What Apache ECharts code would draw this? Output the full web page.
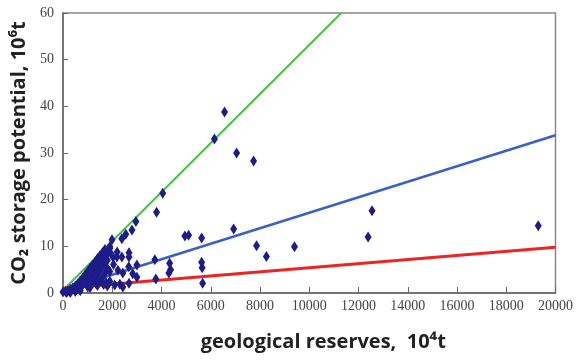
<!DOCTYPE html>
<html>
<head>
<meta charset="utf-8">
<script src="https://cdn.jsdelivr.net/npm/echarts@6/dist/echarts.min.js"></script>
<style>
html,body{margin:0;padding:0;background:#fff;}
#chart{width:576px;height:363px;}
</style>
</head>
<body>
<div id="chart"></div>
<script>
// Scatter points: [geological reserves (10^4 t), CO2 storage potential (10^6 t)]
const scatterPoints = [
  [19300,14.4],[12550,17.6],[12390,12.0],[9400,9.9],
  [6560,38.8],[6150,33.0],[7050,30.0],[7740,28.3],
  [4950,12.2],[5100,12.4],[5630,11.8],[6930,13.7],[7860,10.1],[8260,7.8],
  [5630,6.6],[5650,5.4],[5670,2.1],
  [4050,21.4],[3800,17.3],[2960,15.3],[2800,13.5],[2550,12.6],[2390,11.6],
  [1990,11.4],[1900,9.6],[2680,8.6],[2030,7.7],[2190,7.7],[2390,7.7],[2680,7.7],
  [2200,8.8],[3730,7.1],[4330,6.4],[4370,5.0],[4300,4.3],[3000,6.0],
  [2670,5.6],[2230,4.9],[2430,4.3],[2830,4.1],[3000,3.4],[3770,3.0],
  [2680,2.1],[2310,1.9],[2100,1.7],[1010,1.3],[2430,1.3],[1800,1.5],
  [1900,9.9],[1850,9.0],[1700,9.3],[1600,8.6],[1750,8.0],[1500,8.0],
  [1400,7.4],[1600,7.2],[1800,7.0],[1300,6.6],[1500,6.4],[1700,6.3],
  [1200,6.0],[1400,5.8],[1600,5.6],[1100,5.3],[1300,5.0],[1500,4.8],
  [1800,5.3],[1000,4.6],[1200,4.3],[1400,4.0],[1700,4.2],[900,3.9],
  [1100,3.6],[1300,3.3],[1600,3.3],[800,3.2],[1000,2.9],[1500,2.6],
  [700,2.6],[900,2.2],[1200,2.3],[600,2.0],[800,1.7],[500,1.5],
  [400,1.1],[600,1.0],[300,0.8],[200,0.5],[100,0.3],[0,0.2],
  [300,0.1],[500,0.3],[150,0.1],[700,0.5],[1900,2.5],[1400,1.6],[1100,1.2],
  [1650,7.8],[1450,6.9],[1250,5.5],[1550,5.9],[1950,8.4],[1050,4.0],
  [850,2.8],[1350,2.0],[1750,2.2],[1900,4.6],[2050,6.1],[1650,1.8]
];

// Fitted lines (endpoints)
const greenLine = [[0,0.6],[11300,60]];
const blueLine  = [[0,0.6],[20000,33.8]];
const redLine   = [[0,1.0],[20000,9.8]];

const xTicks = [0,2000,4000,6000,8000,10000,12000,14000,16000,18000,20000];
const yTicks = [0,10,20,30,40,50,60];

const xTitle = 'geological reserves,  10\u2074t';
const yTitle = 'CO\u2082 storage potential, 10\u2076t';

const chart = echarts.init(document.getElementById('chart'), null, {renderer:'canvas'});
chart.setOption({
  animation:false,
  backgroundColor:'#fff',
  grid:{left:63,right:18,top:13,bottom:70,show:true,borderColor:'#888',borderWidth:1.5},
  xAxis:{
    type:'value',min:xTicks[0],max:xTicks[xTicks.length-1],interval:2000,
    axisLine:{show:true,lineStyle:{color:'#666',width:1.5}},
    axisTick:{show:true,inside:true,length:6,lineStyle:{color:'#666'}},
    splitLine:{show:false},
    axisLabel:{fontFamily:'Liberation Serif',fontSize:14,color:'#444',margin:6,
      formatter:function(v){return String(v);}},
    name:xTitle,nameLocation:'middle',nameGap:39,
    nameTextStyle:{fontFamily:'Open Sans',fontWeight:'bold',fontSize:20,color:'#222',padding:[0,0,0,28]}
  },
  yAxis:{
    type:'value',min:yTicks[0],max:yTicks[yTicks.length-1],interval:10,
    axisLine:{show:true,lineStyle:{color:'#666',width:1.5}},
    axisTick:{show:true,inside:true,length:5,lineStyle:{color:'#666'}},
    splitLine:{show:false},
    axisLabel:{fontFamily:'Liberation Serif',fontSize:14,color:'#444',margin:9,
      formatter:function(v){return String(v);}},
    name:yTitle,nameLocation:'middle',nameGap:33,
    nameTextStyle:{fontFamily:'Open Sans',fontWeight:'bold',fontSize:20,color:'#222'}
  },
  series:[
    {type:'line',data:greenLine,symbol:'none',lineStyle:{color:'#44c43c',width:2},z:3},
    {type:'line',data:blueLine,symbol:'none',lineStyle:{color:'#3a5fc8',width:2.5},z:3},
    {type:'line',data:redLine,symbol:'none',lineStyle:{color:'#ee2424',width:3},z:3},
    {type:'scatter',data:scatterPoints,symbol:'diamond',symbolSize:[7,11],
     itemStyle:{color:'#1e1c88',opacity:1},z:4}
  ]
});
</script>
</body>
</html>
